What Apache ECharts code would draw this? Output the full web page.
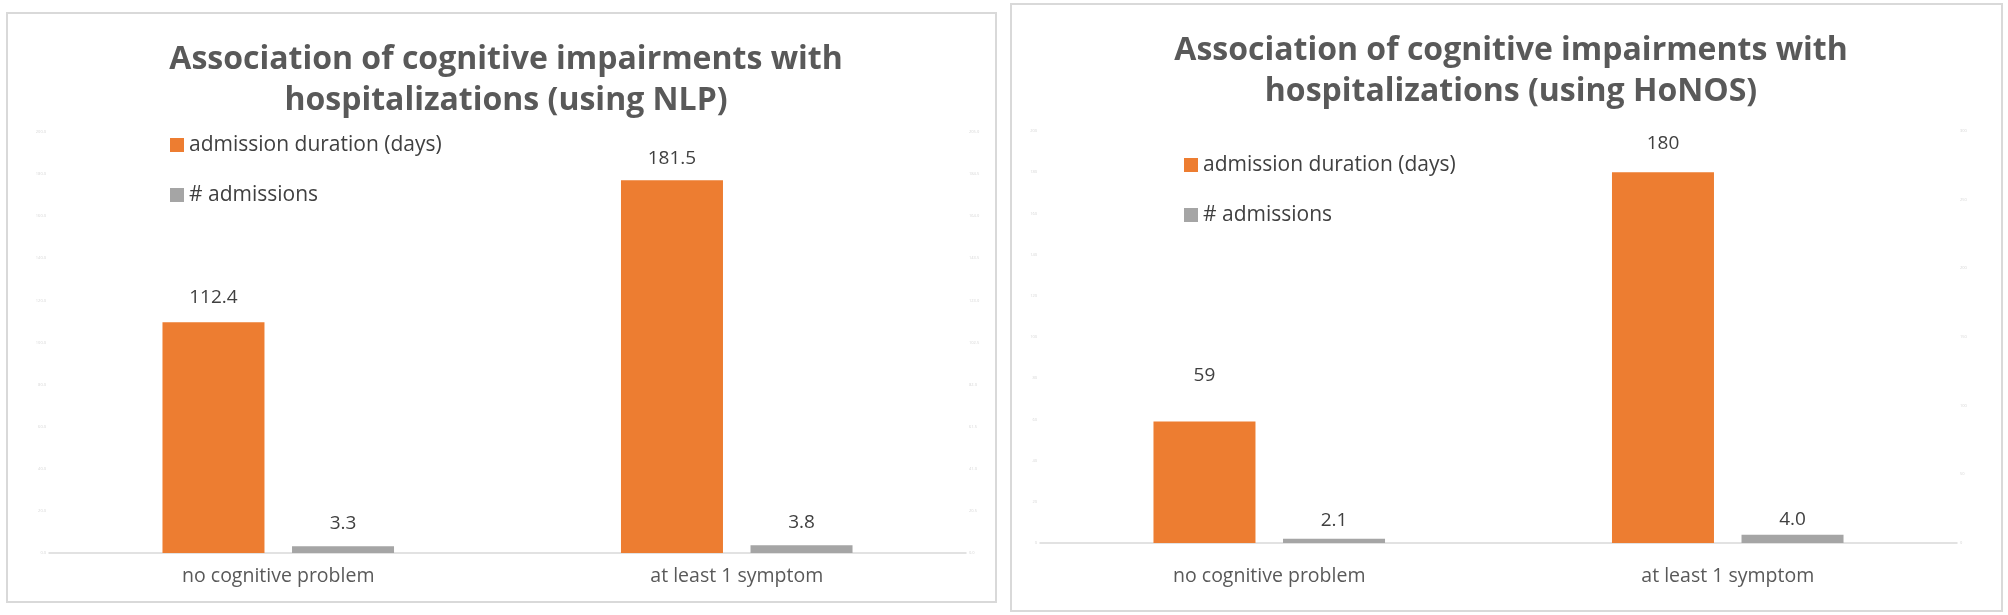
<!DOCTYPE html>
<html>
<head>
<meta charset="utf-8">
<script src="https://cdn.jsdelivr.net/npm/echarts@6/dist/echarts.min.js"></script>
<style>
html,body{margin:0;padding:0;background:#fff;}
#chart{width:2008px;height:615px;}
</style>
</head>
<body>
<div id="chart"></div>
<script>
// ---- data ----
var categories = ['no cognitive problem', 'at least 1 symptom'];
var seriesNames = ['admission duration (days)', '# admissions'];
var titles = ['Association of cognitive impairments with\nhospitalizations (using NLP)',
              'Association of cognitive impairments with\nhospitalizations (using HoNOS)'];
// panel 1 (NLP)
var nlpDuration = [112.4, 181.5];
var nlpAdmissions = [3.3, 3.8];
// panel 2 (HoNOS)
var honosDuration = [59, 180];
var honosAdmissions = [2.1, 4.0];
// axis scales (tick labels are barely legible in the source)
var nlpLeftAxis = {min: 0, max: 200, interval: 20};
var nlpRightAxis = {min: 0, max: 205, interval: 20.5};
var honosLeftAxis = {min: 0, max: 200, interval: 20};
var honosRightAxis = {min: 0, max: 300, interval: 50};

// ---- styling ----
var ORANGE = '#ed7d31', GREY = '#a5a5a5';
var FONT = 'Open Sans';
// label distances above bars (styling only)
var labelGap = {
  nlpDuration: [15, 12], nlpAdmissions: [13, 13],
  honosDuration: [36, 19], honosAdmissions: [9, 6]
};

function tinyY(gridIndex, pos, sc, dec) {
  return {
    type: 'value', gridIndex: gridIndex, position: pos,
    min: sc.min, max: sc.max, interval: sc.interval,
    axisLine: {show: false}, axisTick: {show: false}, splitLine: {show: false},
    axisLabel: {fontSize: 4, color: '#d6d6d6', margin: 3, fontFamily: FONT,
      formatter: function (v) { return v.toFixed(dec); }}
  };
}
function xAx(gridIndex, margin) {
  return {
    type: 'category', gridIndex: gridIndex, data: categories,
    axisLine: {show: true, lineStyle: {color: '#d9d9d9', width: 1.5}},
    axisTick: {show: false},
    axisLabel: {fontSize: 19.5, color: '#595959', margin: margin, fontFamily: FONT}
  };
}
function barS(name, values, gaps, xi, yi, color, dec) {
  return {
    type: 'bar', name: name, xAxisIndex: xi, yAxisIndex: yi,
    data: values.map(function (v, i) { return {value: v, label: {distance: gaps[i]}}; }),
    barWidth: 102, barGap: '27%',
    itemStyle: {color: color},
    label: {show: true, position: 'top', fontSize: 19, color: '#404040', fontFamily: FONT,
      formatter: function (p) { return dec === null ? String(p.value) : p.value.toFixed(dec); }}
  };
}
function legendAt(left, top) {
  return {
    data: seriesNames, orient: 'vertical', left: left, top: top,
    icon: 'rect', itemWidth: 14, itemHeight: 14, itemGap: 28,
    selectedMode: false,
    textStyle: {fontSize: 21, color: '#404040', fontFamily: FONT, lineHeight: 22}
  };
}

var option = {
  animation: false,
  backgroundColor: '#ffffff',
  title: [
    {text: titles[0], left: 501, top: 34, textAlign: 'center',
     textStyle: {fontSize: 32, fontWeight: 'bold', color: '#595959', lineHeight: 41, fontFamily: FONT}},
    {text: titles[1], left: 1506, top: 25, textAlign: 'center',
     textStyle: {fontSize: 32, fontWeight: 'bold', color: '#595959', lineHeight: 41, fontFamily: FONT}}
  ],
  legend: [legendAt(165, 129), legendAt(1179, 149)],
  grid: [
    {left: 49, right: 1042, top: 132, bottom: 62},
    {left: 1040, right: 51, top: 131, bottom: 72}
  ],
  xAxis: [xAx(0, 13), xAx(1, 23)],
  yAxis: [
    tinyY(0, 'left', nlpLeftAxis, 1),
    tinyY(0, 'right', nlpRightAxis, 1),
    tinyY(1, 'left', honosLeftAxis, 0),
    tinyY(1, 'right', honosRightAxis, 0)
  ],
  series: [
    barS(seriesNames[0], nlpDuration, labelGap.nlpDuration, 0, 1, ORANGE, 1),
    barS(seriesNames[1], nlpAdmissions, labelGap.nlpAdmissions, 0, 1, GREY, 1),
    barS(seriesNames[0], honosDuration, labelGap.honosDuration, 1, 2, ORANGE, null),
    barS(seriesNames[1], honosAdmissions, labelGap.honosAdmissions, 1, 2, GREY, 1)
  ],
  graphic: [
    {type: 'rect', shape: {x: 7, y: 13, width: 989, height: 589}, silent: true, z: -1,
     style: {fill: 'none', stroke: '#d9d9d9', lineWidth: 2}},
    {type: 'rect', shape: {x: 1011, y: 4, width: 991, height: 607}, silent: true, z: -1,
     style: {fill: 'none', stroke: '#d9d9d9', lineWidth: 2}}
  ]
};

var chart = echarts.init(document.getElementById('chart'), null, {renderer: 'canvas'});
chart.setOption(option);
</script>
</body>
</html>
